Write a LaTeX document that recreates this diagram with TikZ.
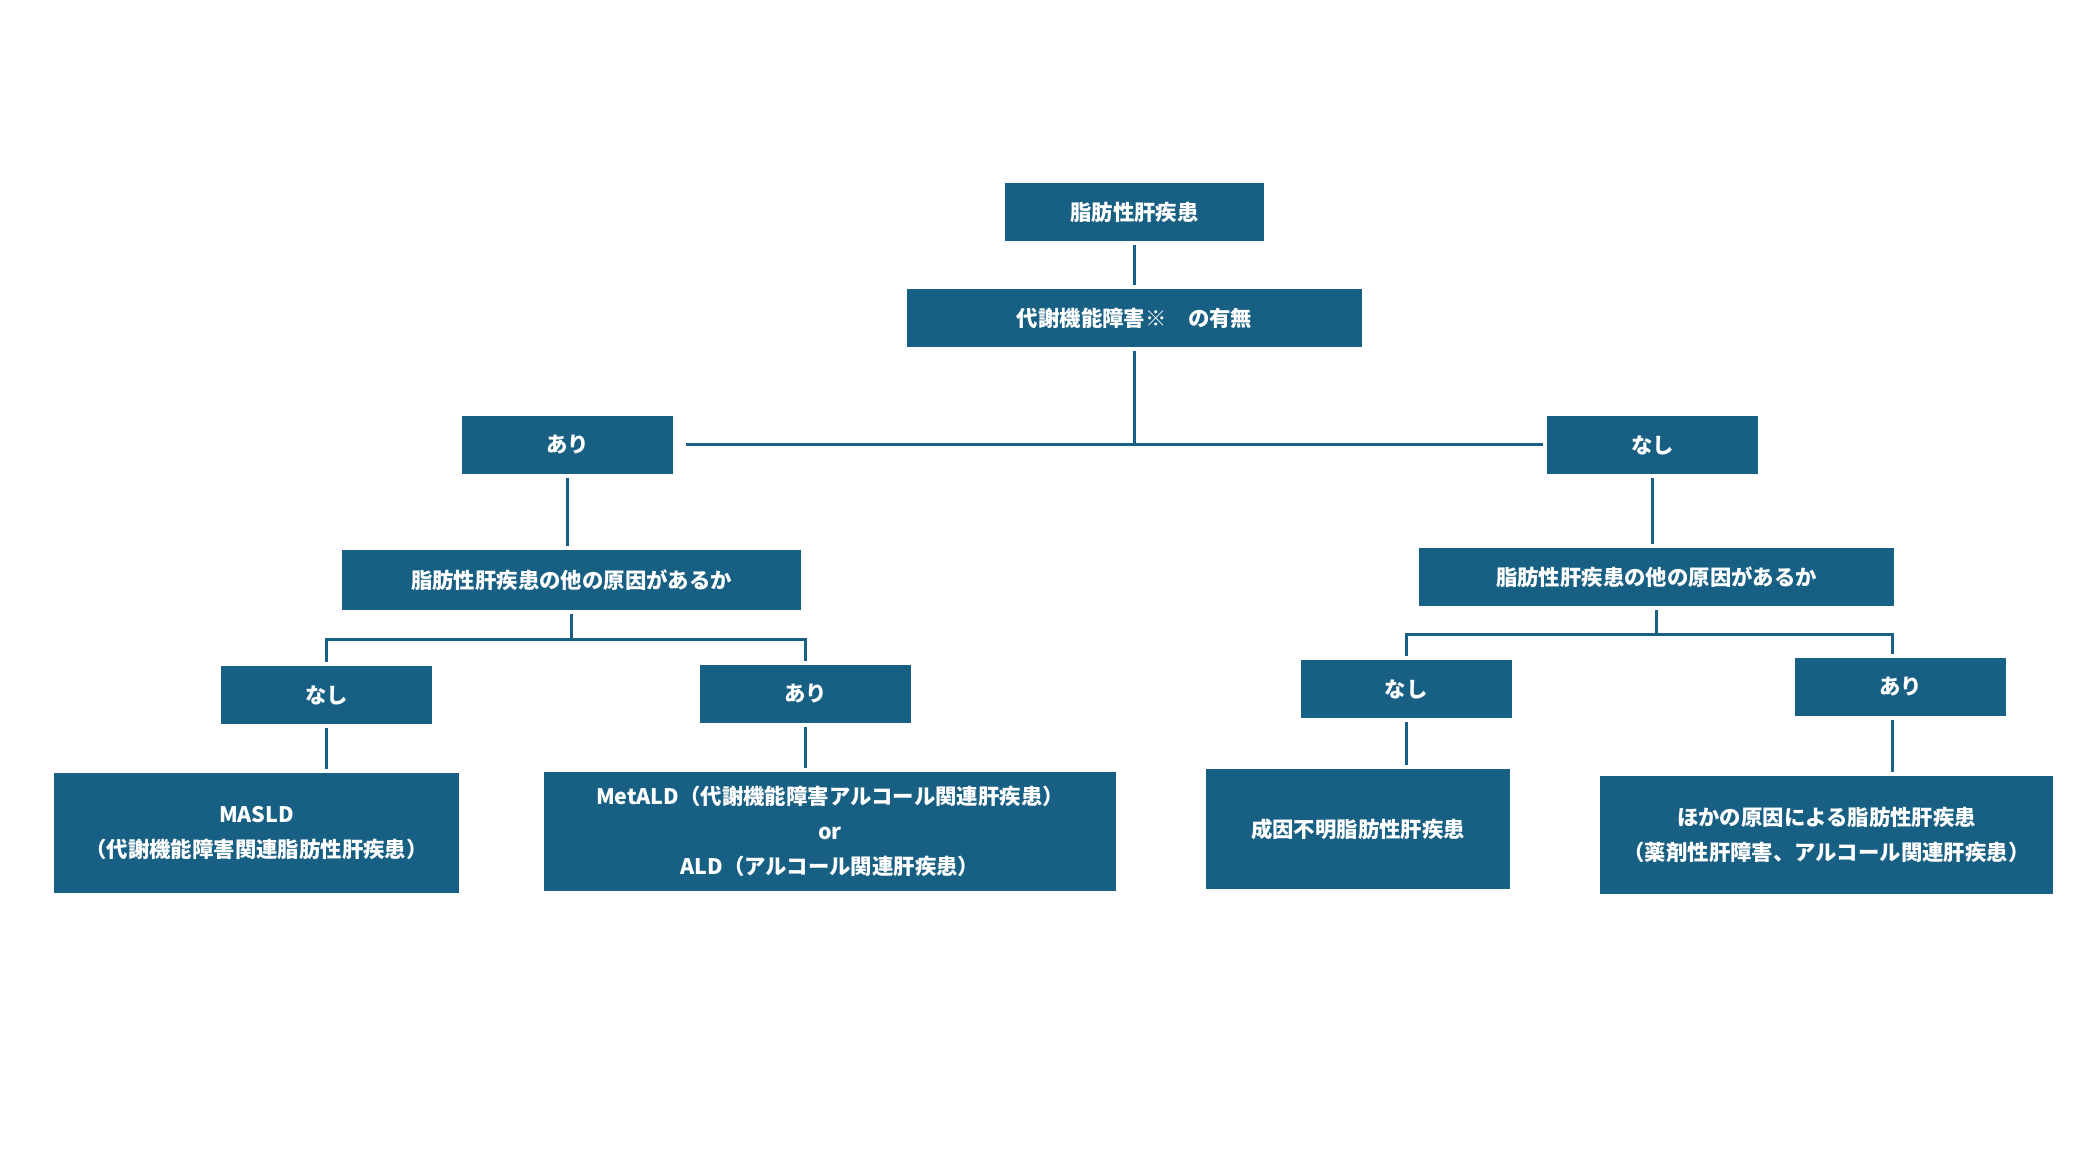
\documentclass[tikz,border=0pt]{standalone}
\usepackage{fontspec}
\newfontfamily\jpfont{Noto Sans CJK JP}
\usepackage{tikz}
\definecolor{boxblue}{HTML}{186083}

\begin{document}
\begin{tikzpicture}[x=0.5pt,y=-0.5pt]
		\tikzset{tree box/.style={fill=boxblue,text=white,font=\jpfont\bfseries\fontsize{10.7}{17.5}\selectfont,align=center,inner sep=0pt,outer sep=2pt,minimum width=#1,minimum height=29pt},
			answer box/.style={tree box=105.5pt},
			result box/.style={tree box=#1,minimum height=60pt},
			tree line/.style={draw=boxblue,line width=1.5pt}}
		\useasboundingbox (0,0) rectangle (2080,1170);

		\node [tree box=129.5pt] (fld) at (1134.5,212.5) {脂肪性肝疾患};
		\node [tree box=227.5pt] (metab) at (1134.5,318.5) {代謝機能障害※　の有無};
		\node [answer box] (ari) at (567.5,445) {あり};
		\node [answer box] (nashi) at (1652.5,445) {なし};
		\node [tree box=229.5pt,minimum height=30pt] (lcause) at (571.5,580) {脂肪性肝疾患の他の原因があるか};
		\node [tree box=237.5pt] (rcause) at (1656.5,577) {脂肪性肝疾患の他の原因があるか};
		\node [answer box] (lno) at (326.5,695) {なし};
		\node [answer box] (lyes) at (805.5,694) {あり};
		\node [answer box] (rno) at (1406,689) {なし};
		\node [answer box] (ryes) at (1900.5,686.5) {あり};
		\node [result box=202.5pt] (masld) at (256.5,833) {MASLD\\（代謝機能障害関連脂肪性肝疾患）};
		\node [result box=286pt,minimum height=59.5pt] (metald) at (830,831.5) {MetALD（代謝機能障害アルコール関連肝疾患）\\or\\ALD（アルコール関連肝疾患）};
		\node [result box=152pt] (unknown) at (1358,829) {成因不明脂肪性肝疾患};
		\node [result box=226.5pt,minimum height=59pt] (other) at (1826.5,835) {ほかの原因による脂肪性肝疾患\\（薬剤性肝障害、アルコール関連肝疾患）};

		\coordinate (lbar) at (0,639);
		\coordinate (rbar) at (0,634);

		\draw [tree line] (fld.south) -- (metab.north);
		\draw [tree line] (metab.south) -- (metab.south |- ari.east);
		\draw [tree line] ([xshift=4.5pt]ari.east) -- (nashi.west);
		\draw [tree line] (ari.south) -- (ari.south |- lcause.north);
		\draw [tree line] (nashi.south) -- (nashi.south |- rcause.north);
		\draw [tree line] (lcause.south) -- (lcause.south |- lbar);
		\draw [tree line] (lno.north) -- (lno.north |- lbar) -- (lyes.north |- lbar) -- (lyes.north);
		\draw [tree line] (rcause.south) -- (rcause.south |- rbar);
		\draw [tree line] (rno.north) -- (rno.north |- rbar) -- ([xshift=-4pt]ryes.north |- rbar) -- ([xshift=-4pt]ryes.north);
		\draw [tree line] (lno.south) -- (lno.south |- masld.north);
		\draw [tree line] (lyes.south) -- (lyes.south |- metald.north);
		\draw [tree line] (rno.south) -- (rno.south |- unknown.north);
		\draw [tree line] ([xshift=-4pt]ryes.south) -- ([xshift=-4pt]ryes.south |- other.north);
	\end{tikzpicture}
\end{document}
